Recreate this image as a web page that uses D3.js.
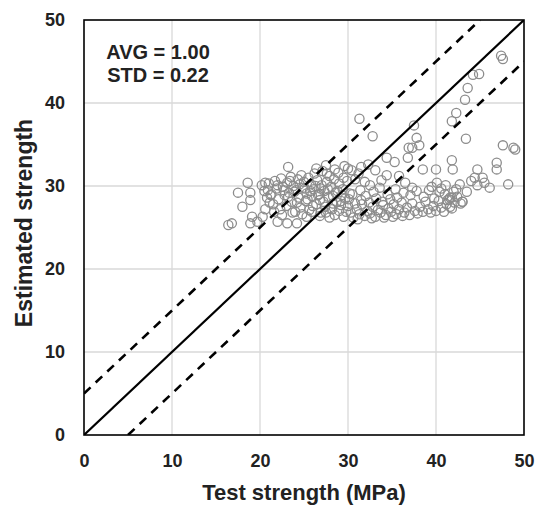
<!DOCTYPE html>
<html lang="en">
<head>
<meta charset="utf-8">
<title>Estimated vs test strength</title>
<script src="https://d3js.org/d3.v7.min.js"></script>
<style>
  body { margin: 0; background: #fff; }
  svg { display: block; font-family: "Liberation Sans", Arial, sans-serif; }
</style>
</head>
<body>
<svg id="chart" width="537" height="506"></svg>
<script>
// tick values for both axes
var tickValues = [0, 10, 20, 30, 40, 50]

// specimens: [test strength, estimated strength] (MPa)
var specimens = [
  // dense upper-left cluster
  [20.2,30.1],[20.5,29.4],[20.8,28.6],[21.0,30.3],[21.3,29.0],[21.5,27.8],[21.7,30.6],[21.9,29.7],[22.1,28.4],[22.3,27.2],
  [22.4,30.9],[22.6,29.9],[22.8,28.9],[23.0,27.6],[23.1,30.4],[23.3,29.2],[23.5,31.1],[23.6,28.1],[23.8,30.0],[24.0,26.9],
  [24.1,29.5],[24.3,30.8],[24.4,28.6],[24.6,27.4],[24.7,31.3],[24.9,29.8],[25.0,30.5],[25.2,28.2],[25.3,29.1],[25.5,31.0],
  [25.6,27.1],[25.8,30.2],[25.9,28.8],[26.1,29.6],[26.2,31.5],[26.4,27.8],[26.5,30.7],[26.7,29.0],[26.8,28.3],[27.0,30.1],
  [27.1,31.8],[27.3,29.4],[27.4,27.5],[27.6,30.5],[27.8,28.7],[27.9,31.2],[28.1,29.9],[28.2,27.2],[28.4,30.8],[28.6,29.2],
  [28.7,28.1],[28.9,31.6],[29.0,30.3],[29.2,27.7],[29.4,29.6],[29.5,31.0],[29.7,28.5],[29.9,30.6],[30.0,32.1],[30.2,29.1],
  [21.2,28.9],[22.0,30.1],[22.7,29.5],[23.4,30.6],[23.9,29.3],[24.5,30.2],[25.1,29.7],[25.7,29.4],[26.3,30.0],[26.9,29.7],
  [23.2,28.7],[24.2,28.0],[25.4,28.4],[26.0,27.6],[26.6,28.9],[27.2,28.1],[27.7,29.6],[28.3,28.8],[28.8,29.4],[29.3,28.9],
  [22.5,26.5],[23.7,26.8],[24.8,26.6],[25.9,26.9],[26.8,26.4],[21.6,26.9],[20.6,27.2],
  // lower band
  [27.5,26.8],[28.0,27.3],[28.5,26.5],[29.0,27.0],[29.5,26.3],[30.0,27.6],[30.3,26.8],[30.6,26.2],[31.0,27.2],[31.3,26.6],
  [31.6,27.8],[31.9,26.4],[32.2,27.0],[32.5,26.7],[32.8,27.5],[33.1,26.3],[33.4,27.1],[33.7,26.8],[34.0,27.7],[34.3,26.5],
  [34.6,27.3],[34.9,26.9],[35.2,27.8],[35.5,26.6],[35.8,27.2],[36.1,28.0],[36.4,26.8],[36.7,27.4],[37.0,26.5],[37.3,27.9],
  [37.6,27.0],[37.9,26.7],[38.2,27.5],[38.5,26.9],[38.8,28.1],[39.1,27.2],[39.4,26.8],[39.7,27.6],[40.0,27.0],[40.3,28.2],
  [40.6,27.4],[40.9,26.9],[41.2,27.8],[41.5,28.4],[41.8,27.3],[42.1,28.0],[42.4,28.7],[42.8,27.9],
  [28.3,27.9],[29.2,28.2],[30.1,28.4],[30.8,27.9],[31.5,28.3],[32.4,28.0],[33.2,28.5],[33.9,28.1],[34.8,28.4],[35.6,28.6],
  [29.8,26.9],[31.1,26.0],[32.7,26.1],[34.1,26.2],[35.1,26.3],[36.2,26.4],[27.9,26.2],[26.9,26.8],
  [30.5,29.0],[31.4,29.5],[32.0,28.8],[32.9,29.3],[33.6,29.8],[34.5,29.0],[35.4,29.6],[36.3,29.2],[37.1,28.9],[37.8,29.4],
  [38.6,28.7],[39.2,29.5],[39.8,28.5],[40.4,29.3],[41.0,29.0],
  // right-hand group
  [39.5,29.9],[40.1,30.4],[40.6,29.7],[41.1,30.1],[41.6,28.6],[42.0,29.3],[42.7,30.2],[43.0,28.1],[43.5,29.3],[44.4,31.0],
  [44.7,30.1],[45.3,31.0],[46.1,29.8],[48.2,30.2],[44.0,30.6],[45.5,30.4],[42.3,29.6],[41.3,28.3],
  // middle, above the band
  [30.8,30.8],[31.2,31.5],[31.9,30.5],[32.5,30.1],[33.1,31.9],[33.8,30.7],[34.4,31.3],[34.4,33.4],[35.3,32.9],[36.8,33.4],
  [37.3,34.6],[37.3,29.8],[35.8,31.2],[36.5,30.4],[32.3,32.6],[31.5,32.3],[30.4,31.9],[29.6,32.4],[28.5,32.0],[27.6,31.5],
  [26.4,32.1],[27.5,32.5],
  // scattered
  [47.4,45.7],[47.6,45.3],[44.2,43.4],[44.9,43.5],[43.6,41.8],[43.3,40.4],[42.3,38.8],[41.8,37.8],[43.4,35.7],[31.3,38.1],
  [32.8,36.0],[37.5,37.3],[37.8,35.8],[38.1,34.9],[36.9,34.6],[47.6,34.9],[48.8,34.6],[49.0,34.4],[41.8,33.1],[41.9,32.0],
  [40.0,32.0],[38.5,32.0],[46.9,32.8],[46.9,32.0],[44.7,32.0],[43.0,28.1],[41.6,27.5],[41.8,28.6],
  // left edge
  [23.2,32.3],[18.6,30.4],[17.5,29.2],[18.9,29.2],[18.9,28.3],[18.0,27.5],[16.4,25.3],[16.8,25.5],[19.1,26.3],[19.7,25.7],
  [20.3,26.3],[18.9,25.5],[20.6,30.4],[20.9,29.5],[21.1,28.0],[22.0,25.7],[23.1,25.5],[24.2,25.5],[25.3,26.3]
]

// reference lines: y = x + offset
var refLines = [
  {offset: 0, dash: null},
  {offset: 5, dash: "9,7"},
  {offset: -5, dash: "9,7"}
]

var statsText = ["AVG = 1.00", "STD = 0.22"]

var margin = {top: 20, right: 13, bottom: 71, left: 84}
var W = 537, H = 506
var width = W - margin.left - margin.right
var height = H - margin.top - margin.bottom

var svg = d3.select("#chart")
var g = svg.append("g").attr("transform", "translate(" + margin.left + "," + margin.top + ")")

var x = d3.scaleLinear().domain([0, 50]).range([0, width])
var y = d3.scaleLinear().domain([0, 50]).range([height, 0])

// grid
g.append("g")
  .selectAll("line")
  .data(tickValues.slice(1, -1))
  .join("line")
    .attr("x1", d => x(d)).attr("x2", d => x(d))
    .attr("y1", 0).attr("y2", height)
    .attr("stroke", "#d9d9d9").attr("stroke-width", 1.3)
g.append("g")
  .selectAll("line")
  .data(tickValues.slice(1, -1))
  .join("line")
    .attr("y1", d => y(d)).attr("y2", d => y(d))
    .attr("x1", 0).attr("x2", width)
    .attr("stroke", "#d9d9d9").attr("stroke-width", 1.3)

// points
g.append("g")
  .selectAll("circle")
  .data(specimens)
  .join("circle")
    .attr("cx", d => x(d[0]))
    .attr("cy", d => y(d[1]))
    .attr("r", 4.6)
    .attr("fill", "none")
    .attr("stroke", "#8c8c8c")
    .attr("stroke-width", 1.3)

// reference lines, clipped to the plot
svg.append("clipPath").attr("id", "plotClip")
  .append("rect").attr("width", width).attr("height", height)

g.append("g")
  .attr("clip-path", "url(#plotClip)")
  .selectAll("line")
  .data(refLines)
  .join("line")
    .attr("x1", d => x(Math.max(0, -d.offset)))
    .attr("y1", d => y(Math.max(0, -d.offset) + d.offset))
    .attr("x2", d => x(Math.min(50, 50 - d.offset)))
    .attr("y2", d => y(Math.min(50, 50 - d.offset) + d.offset))
    .attr("stroke", "#000")
    .attr("stroke-width", d => d.dash ? 2.6 : 2.2)
    .attr("stroke-dasharray", d => d.dash)

// frame
g.append("rect")
  .attr("width", width).attr("height", height)
  .attr("fill", "none").attr("stroke", "#000").attr("stroke-width", 1.6)

// axes
var xAxis = g.append("g")
  .attr("transform", "translate(0," + height + ")")
  .call(d3.axisBottom(x).tickValues(tickValues).tickSize(0).tickPadding(19))
var yAxis = g.append("g")
  .call(d3.axisLeft(y).tickValues(tickValues).tickSize(0).tickPadding(19))
xAxis.select(".domain").remove()
yAxis.select(".domain").remove()
svg.selectAll(".tick text")
  .attr("font-family", "Liberation Sans, Arial, sans-serif")
  .attr("font-size", 18)
  .attr("font-weight", "bold")
  .attr("fill", "#222")

// axis titles
svg.append("text")
  .attr("x", margin.left + width / 2)
  .attr("y", 500)
  .attr("text-anchor", "middle")
  .attr("font-size", 22).attr("font-weight", "bold").attr("fill", "#222")
  .text("Test strength (MPa)")
svg.append("text")
  .attr("transform", "translate(32,223) rotate(-90)")
  .attr("text-anchor", "middle")
  .attr("font-size", 23).attr("font-weight", "bold").attr("fill", "#222")
  .text("Estimated strength")

// stats box
svg.append("g")
  .selectAll("text")
  .data(statsText)
  .join("text")
    .attr("x", 158)
    .attr("y", (d, i) => 59 + i * 23)
    .attr("text-anchor", "middle")
    .attr("font-size", 20).attr("font-weight", "bold").attr("fill", "#222")
    .text(d => d)
</script>
</body>
</html>
